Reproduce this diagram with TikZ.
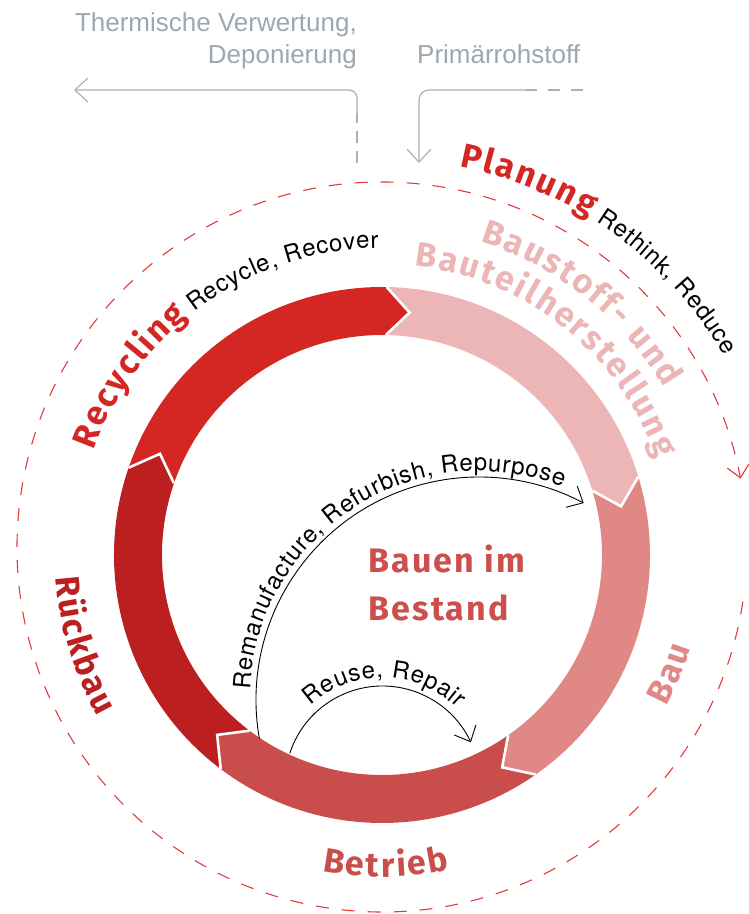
\documentclass[tikz,border=0pt]{standalone}
\usepackage{fontspec}
\setmainfont{TeX Gyre Heros}
\newfontfamily\labfont{Fira Sans}[LetterSpace=6.5]
\newfontfamily\pathlabfont{Fira Sans}
\newfontfamily\txtfont{TeX Gyre Heros}
\newfontfamily\grayfont{Liberation Sans}
\usetikzlibrary{arrows.meta,decorations.text}
\definecolor{cRecy}{HTML}{D42724}
\definecolor{cBaus}{HTML}{EBB6B5}
\definecolor{cBau}{HTML}{E08886}
\definecolor{cBetr}{HTML}{C94E4B}
\definecolor{cRueck}{HTML}{BC1F1F}
\definecolor{cBest}{HTML}{CB4F4C}
\definecolor{cDash}{HTML}{E23B3B}
\definecolor{cGrayLine}{HTML}{A9B1B9}
\definecolor{cGrayText}{HTML}{9EA6AE}
\newcommand\labfmt[1]{\pathlabfont\bfseries\fontsize{34}{34}\selectfont\color{#1}\kern2.2pt}
\newcommand\txtfmt{\txtfont\fontsize{24}{24}\selectfont\color{black}\kern0.7pt}
\tikzset{
  sepline/.style={draw=white, line width=2.6pt, line join=miter},
  barb/.style={-{Straight Barb[length=13pt,width=24pt]}},
  gline/.style={draw=cGrayLine, line width=1.2pt},
  gtext/.style={inner sep=0pt, text=cGrayText, font=\grayfont\fontsize{26}{26}\selectfont},
  btext/.style={inner sep=0pt, text=cBest, font=\labfont\bfseries\fontsize{34}{34}\selectfont},
  thin/.style={draw=black, line width=0.9pt},
}
\begin{document}
\begin{tikzpicture}[x=1pt,y=1pt]
\useasboundingbox (0,0) rectangle (749,914);
\coordinate (O) at (382,359);
% ring
\begin{scope}[shift={(382,359)}]
\def\Ro{268}\def\Ri{220}\def\Rm{244}
\foreach \s/\c in {161/cRecy, 89/cBaus, 17/cBau, -55/cBetr, -127/cRueck} {
  \pgfmathsetmacro\e{\s-72}
  \fill[\c] (\s:\Ro) arc[start angle=\s, end angle=\e, radius=\Ro] -- ({\e-5.5}:\Rm) -- (\e:\Ri) arc[start angle=\e, end angle=\s, radius=\Ri] -- ({\s-5.5}:\Rm) -- cycle;
}
\foreach \s in {161,89,17,-55,-127} \draw[sepline] (\s:\Ro) -- ({\s-5.5}:\Rm) -- (\s:\Ri);
\end{scope}
% dashed outer cycle
\coordinate (DC) at (382,367);
\draw[cDash, line width=1.1pt, dash pattern=on 13pt off 13pt, -{Straight Barb[length=12pt,width=22pt]}] ([shift={(-8.6:365)}]DC) arc[start angle=-8.6, end angle=-349.2, radius=365];
% gray flows
\coordinate (gL0) at (357,751);
\coordinate (gL1) at (357,801);
\coordinate (gLc) at (357,824);
\coordinate (gL2) at (74,824);
\draw[gline, dash pattern=on 12pt off 8pt] (gL0) -- (gL1);
\draw[gline, barb, rounded corners=8pt] (gL1) -- (gLc) -- (gL2);
\coordinate (gR0) at (583,824);
\coordinate (gR1) at (526,824);
\coordinate (gRc) at (419,824);
\coordinate (gR2) at (419,751);
\draw[gline, dash pattern=on 12pt off 11pt] (gR0) -- (gR1);
\draw[gline, barb, rounded corners=10pt] (gR1) -- (gRc) -- (gR2);
\node[gtext, anchor=base east] (t1) at (357,882) {Thermische Verwertung,};
\node[gtext, anchor=base east] (t2) at (357,850) {Deponierung};
\node[gtext, anchor=base west] (t3) at (417,850) {Primärrohstoff};
% centre
\node[btext, anchor=base west] (b1) at (368,341) {Bauen im};
\node[btext, anchor=base west] (b2) at (368,293) {Bestand};
% inner arcs
\coordinate (AC) at (479,214);
\draw[thin, barb] ([shift={(190:223)}]AC) arc[start angle=190, end angle=62, radius=223];
\path[decorate, decoration={text along path, text={|\txtfmt|Remanufacture, Refurbish, Repurpose}}] ([shift={(177.5:229)}]AC) arc[start angle=177.5, end angle=30, radius=229];
\coordinate (RC) at (382.5,130.5);
\draw[thin, barb] ([shift={(162:97.5)}]RC) arc[start angle=162, end angle=25, radius=97.5];
\path[decorate, decoration={text along path, text={|\txtfmt|Reuse, Repair}}] ([shift={(133:106)}]RC) arc[start angle=133, end angle=10, radius=106];
% labels
\path[decorate, decoration={text along path, text={|\labfmt{cRecy}|Recycling|\txtfmt| Recycle, Recover}}] ([shift={(160.5:307)}]O) arc[start angle=160.5, end angle=50, radius=307];
\path[decorate, decoration={text along path, text={|\labfmt{cRecy}|Planung|\txtfmt| Rethink, Reduce}}] ([shift={(79:396)}]O) arc[start angle=79, end angle=-5, radius=396];
\path[decorate, decoration={text along path, text={|\labfmt{cBaus}|Baustoff- und}}] ([shift={(73:328)}]O) arc[start angle=73, end angle=0, radius=328];
\path[decorate, decoration={text along path, text={|\labfmt{cBaus}|Bauteilherstellung}}] ([shift={(84:291)}]O) arc[start angle=84, end angle=-5, radius=291];
\path[decorate, decoration={text along path, text={|\labfmt{cRueck}|Rückbau}}] ([shift={(183.5:327)}]O) arc[start angle=183.5, end angle=250, radius=327];
\path[decorate, decoration={text along path, text align=center, text={|\labfmt{cBetr}|Betrieb}}] ([shift={(245:322)}]O) arc[start angle=245, end angle=296, radius=322];
\path[decorate, decoration={text along path, text={|\labfmt{cBau}|Bau}}] ([shift={(-28.5:322)}]O) arc[start angle=-28.5, end angle=5, radius=322];
\end{tikzpicture}
\end{document}
